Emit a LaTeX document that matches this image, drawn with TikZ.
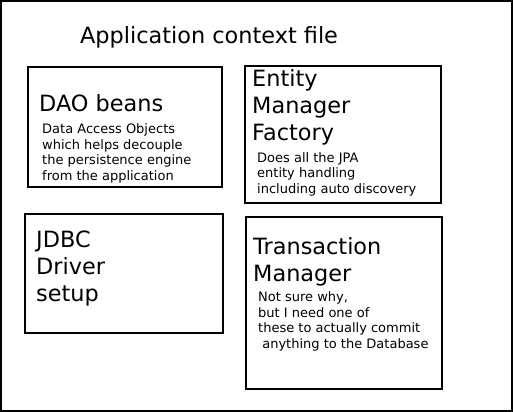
\documentclass[tikz,border=0pt]{standalone}
\usepackage{fontspec}
\setmainfont{DejaVu Sans}
\usetikzlibrary{positioning}
\tikzset{
    frame/.style={draw,line width=2pt},
    bean/.style={draw,line width=1.6pt,anchor=north west,inner sep=0pt},
    heading/.style={anchor=base west,inner sep=0pt,align=left,font=\fontsize{22.4}{27}\selectfont},
    note/.style={anchor=base west,inner sep=0pt,align=left,font=\fontsize{13}{15.5}\selectfont}
}

\begin{document}
\begin{tikzpicture}[x=1pt,y=-1pt]

                \useasboundingbox (0,0) rectangle (514,412);
                \draw[frame] (1,1) rectangle (512,411);

                \node (title) [anchor=base,inner sep=0pt,font=\fontsize{22.4}{27}\selectfont] at (209,44) {Application context file};

                % the four beans
                \node[bean,minimum width=194pt,minimum height=120pt] (dao)    at (27,66)  {};
                \node[bean,minimum width=196pt,minimum height=137pt] (emf)    at (244,65) {};
                \node[bean,minimum width=198pt,minimum height=119pt] (jdbc)   at (24,213) {};
                \node[bean,minimum width=196pt,minimum height=172pt] (txmgr)  at (245,216) {};

                % positions are the baselines of the last lines
                \node[heading] (dao title)   at (39,111)  {DAO beans};
                \node[note]    (dao text)    at (42,180)  {Data Access Objects\\which helps decouple\\the persistence engine\\from the application};

                \node[heading] (emf title)   at (252,140) {Entity\\Manager\\Factory};
                \node[note]    (emf text)    at (257,193) {Does all the JPA\\entity handling\\including auto discovery};

                \node[heading] (jdbc title)  at (36,301)  {JDBC\\Driver\\setup};

                \node[heading] (txmgr title) at (253,281) {Transaction\\Manager};
                \node[note]    (txmgr text)  at (258,348) {Not sure why,\\but I need one of\\these to actually commit\\\ anything to the Database};

            \end{tikzpicture}
\end{document}
